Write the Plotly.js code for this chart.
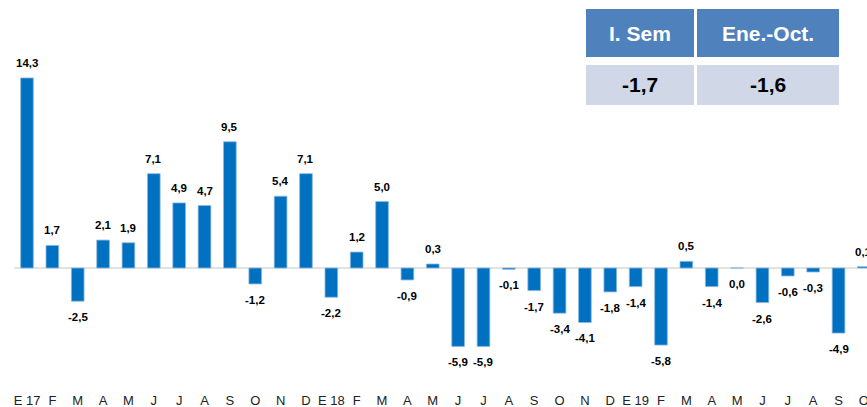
<!DOCTYPE html>
<html>
<head>
<meta charset="utf-8">
<script src="https://cdn.plot.ly/plotly-3.0.1.min.js"></script>
<style>html,body{margin:0;padding:0;background:#fff;}#chart{width:867px;height:407px;}</style>
</head>
<body>
<div id="chart"></div>
<script>
// Month tick labels (Jan 2017 .. Oct 2019)
const monthLabels = ["E 17","F","M","A","M","J","J","A","S","O","N","D",
                     "E 18","F","M","A","M","J","J","A","S","O","N","D",
                     "E 19","F","M","A","M","J","J","A","S","O"];
// Monthly variation (%)
const values = [14.3, 1.7, -2.5, 2.1, 1.9, 7.1, 4.9, 4.7, 9.5, -1.2, 5.4, 7.1,
                -2.2, 1.2, 5.0, -0.9, 0.3, -5.9, -5.9, -0.1, -1.7, -3.4, -4.1, -1.8,
                -1.4, -5.8, 0.5, -1.4, 0.0, -2.6, -0.6, -0.3, -4.9, 0.1];
// Summary table
const tableHeaders = ["I. Sem", "Ene.-Oct."];
const tableValues = [-1.7, -1.6];

const W = 867, H = 407;
const mB = 16;
const plotH = H - mB;
const fmt = v => v.toFixed(1).replace('.', ',');
const xs = values.map((v, i) => i);

const bar = {
  type: 'bar',
  x: xs,
  y: values,
  width: 0.5,
  marker: {color: '#0070C0', line: {color: '#8DB8E0', width: 0.8}},
  hoverinfo: 'none'
};

const annotations = values.map((v, i) => ({
  x: i, y: v, xref: 'x', yref: 'y',
  text: '<b>' + fmt(v) + '</b>',
  showarrow: false,
  yanchor: 'middle', xanchor: 'center',
  yshift: v > 0 ? 15 : -16,
  font: {family: 'Liberation Sans, Arial, sans-serif', size: 11.5, color: '#000'}
}));

// table geometry in pixels
const px = p => p / W;
const py = p => 1 - p / plotH;
const cells = [[586, 694], [697, 839]];
const shapes = [
  {type: 'line', xref: 'x', yref: 'y', x0: -0.5, x1: 34, y0: 0, y1: 0,
   line: {color: '#D9D9D9', width: 1.3}, layer: 'below'}
];
cells.forEach((c, k) => {
  shapes.push({type: 'rect', xref: 'paper', yref: 'paper', x0: px(c[0]), x1: px(c[1]),
    y0: py(57), y1: py(9), fillcolor: '#4F81BD', line: {width: 0}});
  shapes.push({type: 'rect', xref: 'paper', yref: 'paper', x0: px(c[0]), x1: px(c[1]),
    y0: py(105), y1: py(65), fillcolor: '#D0D8E8', line: {width: 0}});
  annotations.push({xref: 'paper', yref: 'paper', x: px((c[0] + c[1]) / 2), y: py(33),
    text: '<b>' + tableHeaders[k] + '</b>', showarrow: false, xanchor: 'center', yanchor: 'middle',
    font: {family: 'Liberation Sans, Arial, sans-serif', size: 21, color: '#fff'}});
  annotations.push({xref: 'paper', yref: 'paper', x: px((c[0] + c[1]) / 2), y: py(85),
    text: '<b>' + fmt(tableValues[k]) + '</b>', showarrow: false, xanchor: 'center', yanchor: 'middle',
    font: {family: 'Liberation Sans, Arial, sans-serif', size: 21, color: '#000'}});
});

const scale = 13.29; // px per unit
const yTop = 268 / scale;
const yBot = -(plotH - 268) / scale;
const step = 25.36;
const xMin = -27 / step;
const xMax = (W - 27) / step;

const layout = {
  width: W, height: H,
  margin: {l: 0, r: 0, t: 0, b: mB, pad: 0},
  paper_bgcolor: '#fff', plot_bgcolor: '#fff',
  showlegend: false,
  xaxis: {
    range: [xMin, xMax], tickvals: xs, ticktext: monthLabels,
    showgrid: false, zeroline: false, showline: false, ticks: '',
    ticklabeloverflow: 'allow',
    tickfont: {family: 'Liberation Sans, Arial, sans-serif', size: 13, color: '#222'},
    tickangle: 0, fixedrange: true
  },
  yaxis: {range: [yBot, yTop], visible: false, showgrid: false, zeroline: false, fixedrange: true},
  shapes: shapes,
  annotations: annotations
};

Plotly.newPlot('chart', [bar], layout, {staticPlot: true, displayModeBar: false});
</script>
</body>
</html>
